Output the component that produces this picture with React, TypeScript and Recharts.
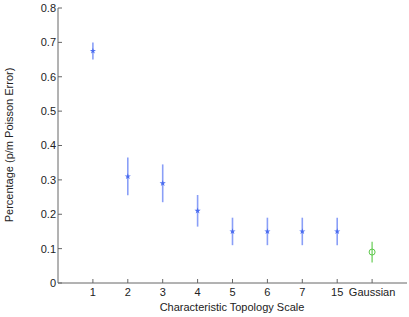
import {
  ScatterChart,
  Scatter,
  XAxis,
  YAxis,
  ErrorBar,
  Symbols,
} from "recharts";

const categories = ["1", "2", "3", "4", "5", "6", "7", "15", "Gaussian"];
const topologyValues = [0.675, 0.31, 0.29, 0.21, 0.15, 0.15, 0.15, 0.15];
const topologyErrors = [0.025, 0.055, 0.055, 0.046, 0.04, 0.04, 0.04, 0.04];
const gaussianValues = [0.09];
const gaussianErrors = [0.03];
const yTicks = [0, 0.1, 0.2, 0.3, 0.4, 0.5, 0.6, 0.7, 0.8];

const topology = topologyValues.map((v, i) => ({
  x: i + 1,
  y: v,
  err: topologyErrors[i],
}));
const gaussian = gaussianValues.map((v, i) => ({
  x: topologyValues.length + 1 + i,
  y: v,
  err: gaussianErrors[i],
}));

const font = "'Liberation Sans', Arial, sans-serif";
const axisColor = "#666";
const textColor = "#222";

export default function App() {
  return (
    <div style={{ position: "absolute", left: 0, top: 0, background: "#fff" }}>
      <ScatterChart
        width={409}
        height={317}
        margin={{ top: 8, right: 2, bottom: 0, left: 0 }}
        style={{ fontFamily: font }}
      >
        <XAxis
          type="number"
          dataKey="x"
          domain={[0, 10]}
          ticks={[1, 2, 3, 4, 5, 6, 7, 8, 9]}
          tickFormatter={(v: number) => categories[v - 1]}
          height={34}
          stroke={axisColor}
          tickSize={-4}
          tickMargin={9}
          tick={{ fill: textColor, fontSize: 11 }}
          label={{
            content: () => (
              <text
                x={232}
                y={311}
                textAnchor="middle"
                fontSize={11}
                fill={textColor}
                fontFamily={font}
              >
                Characteristic Topology Scale
              </text>
            ),
          }}
        />
        <YAxis
          type="number"
          dataKey="y"
          domain={[0, 0.8]}
          ticks={yTicks}
          tickFormatter={(v: number) => (v === 0 ? "0" : v.toFixed(1))}
          width={58}
          stroke={axisColor}
          tickSize={-4}
          tickMargin={6}
          tick={{ fill: textColor, fontSize: 11 }}
          label={{
            content: () => (
              <text
                x={13}
                y={145}
                transform="rotate(-90 13 145)"
                textAnchor="middle"
                fontSize={11}
                fill={textColor}
                fontFamily={font}
              >
                Percentage (p/m Poisson Error)
              </text>
            ),
          }}
        />
        <Scatter
          data={topology}
          isAnimationActive={false}
          shape={(p: any) => (
            <Symbols
              cx={p.cx}
              cy={p.cy}
              type="star"
              size={12}
              fill="#4a6cf0"
            />
          )}
        >
          <ErrorBar
            dataKey="err"
            direction="y"
            width={0}
            stroke="#8a9ff7"
            strokeWidth={1.6}
            isAnimationActive={false}
          />
        </Scatter>
        <Scatter
          data={gaussian}
          isAnimationActive={false}
          shape={(p: any) => (
            <circle
              cx={p.cx}
              cy={p.cy}
              r={3}
              fill="none"
              stroke="#5cc84a"
              strokeWidth={1}
            />
          )}
        >
          <ErrorBar
            dataKey="err"
            direction="y"
            width={0}
            stroke="#72d062"
            strokeWidth={1.3}
            isAnimationActive={false}
          />
        </Scatter>
      </ScatterChart>
    </div>
  );
}
